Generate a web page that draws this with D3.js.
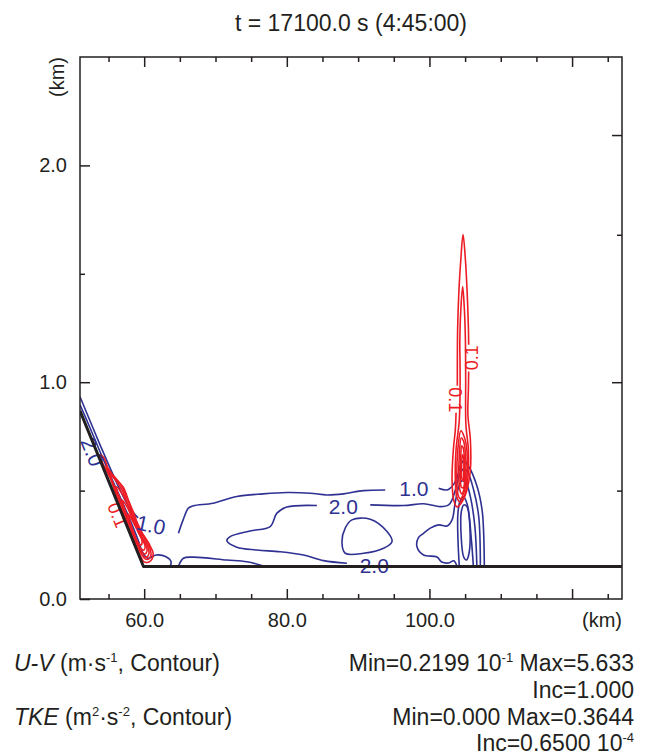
<!DOCTYPE html>
<html>
<head>
<meta charset="utf-8">
<script src="https://cdn.jsdelivr.net/npm/d3@7"></script>
<style>
  body { margin: 0; background: #fff; }
  text { font-family: "Liberation Sans", Arial, sans-serif; fill: #231f20; }
</style>
</head>
<body>
<div id="chart"></div>
<script>
// ---- data (x: km, z: km) ----
var terrain = [[51, 0.868], [59.9, 0.15], [127, 0.15]];

// U-V contours (open lines)
var uvSlope1 = [[51.00, 0.933], [52.40, 0.822], [53.81, 0.711], [55.21, 0.605], [56.61, 0.503], [58.02, 0.416], [59.14, 0.374]];
var uvSlope2 = [[51.00, 0.896], [52.40, 0.790], [53.81, 0.679], [55.21, 0.573], [56.61, 0.471], [58.02, 0.365], [59.14, 0.273],
  [59.84, 0.212], [60.50, 0.188], [61.67, 0.203], [63.07, 0.195], [63.77, 0.172], [63.63, 0.150]];
var uvBump = [[64.80, 0.150], [65.50, 0.188], [66.90, 0.193], [71.59, 0.180], [74.40, 0.172], [76.96, 0.150]];
var uvOne = [[64.80, 0.303], [65.46, 0.365], [66.20, 0.419], [66.90, 0.430], [69.67, 0.442], [72.99, 0.473], [76.68, 0.485],
  [80.01, 0.491], [83.28, 0.488], [85.62, 0.480], [87.95, 0.485], [90.76, 0.500], [93.80, 0.503]];
var uvOneR = [[101.29, 0.511], [102.47, 0.503], [103.17, 0.519], [103.87, 0.559], [104.33, 0.614], [104.79, 0.637],
  [105.50, 0.611], [106.68, 0.519], [107.38, 0.411], [107.60, 0.305], [107.70, 0.150]];
var uvTwoL = [[88.43, 0.165], [85.15, 0.177], [82.34, 0.203], [79.07, 0.218], [75.80, 0.226], [72.99, 0.239], [71.59, 0.269],
  [72.05, 0.288], [74.86, 0.314], [77.67, 0.334], [78.61, 0.396], [80.01, 0.424], [84.22, 0.431]];
var uvTwoR = [[91.70, 0.434], [96.38, 0.431], [99.18, 0.439], [101.53, 0.426], [102.69, 0.434], [103.17, 0.457], [103.63, 0.503],
  [104.19, 0.568], [104.76, 0.600], [105.32, 0.587], [106.20, 0.503], [106.91, 0.380], [107.14, 0.150]];
var uvThree = [[103.87, 0.150], [103.40, 0.176], [102.65, 0.166], [101.67, 0.172], [101.06, 0.194], [99.18, 0.203], [98.26, 0.240],
  [98.44, 0.282], [99.18, 0.303], [100.12, 0.327], [101.29, 0.342], [102.47, 0.337], [103.17, 0.365], [103.56, 0.434],
  [103.98, 0.503], [104.54, 0.545], [105.11, 0.536], [105.74, 0.471], [106.37, 0.334], [106.65, 0.150]];
var uvFour = [[104.19, 0.150], [104.00, 0.273], [103.98, 0.388], [104.26, 0.448], [104.76, 0.471], [105.32, 0.434],
  [105.88, 0.273], [106.16, 0.150]];
// U-V contours (closed loops)
var uvLoopMid = [[89.13, 0.365], [91.70, 0.368], [94.05, 0.311], [94.75, 0.265], [93.57, 0.234], [90.76, 0.211],
  [88.19, 0.211], [87.73, 0.265], [88.19, 0.327]];
var uvLoopPlume = [[104.47, 0.403], [104.44, 0.296], [104.79, 0.195], [105.18, 0.180], [105.50, 0.203], [105.67, 0.334],
  [105.27, 0.425], [104.82, 0.434]];

var uvLabels = [
  { t: "2.0", x: 52.75, z: 0.679, a: 68 },
  { t: "1.0", x: 60.96, z: 0.342, a: 12 },
  { t: "1.0", x: 97.81, z: 0.508, a: 0 },
  { t: "2.0", x: 87.91, z: 0.425, a: 0 },
  { t: "2.0", x: 92.26, z: 0.157, a: 0 }
];

// TKE contours
var tkeSlope1 = [[53.81, 0.665], [54.37, 0.651], [55.07, 0.591], [56.05, 0.550], [57.04, 0.517], [57.88, 0.448], [58.58, 0.393],
  [59.14, 0.342], [59.84, 0.296], [60.54, 0.263], [60.96, 0.236], [61.25, 0.212], [61.11, 0.185], [60.68, 0.171],
  [59.98, 0.171], [59.42, 0.203], [58.58, 0.273], [57.46, 0.365], [56.33, 0.457], [55.21, 0.559], [54.23, 0.624]];
var tkeSlope2 = [[54.65, 0.614], [55.49, 0.577], [56.75, 0.527], [57.60, 0.466], [58.30, 0.406], [59.00, 0.351], [59.70, 0.305],
  [60.40, 0.268], [60.82, 0.231], [60.96, 0.203], [60.68, 0.185], [60.12, 0.185], [59.56, 0.212], [58.72, 0.277],
  [57.60, 0.370], [56.47, 0.462], [55.35, 0.554]];
var tkeSlope3 = [[55.21, 0.573], [56.05, 0.545], [57.04, 0.494], [57.74, 0.434], [58.44, 0.379], [59.14, 0.328], [59.98, 0.282],
  [60.54, 0.240], [60.68, 0.212], [60.40, 0.194], [59.84, 0.199], [59.14, 0.249], [58.16, 0.328], [57.04, 0.420], [56.05, 0.503]];
var tkeSlope4 = [[56.05, 0.517], [56.75, 0.494], [57.60, 0.443], [58.30, 0.388], [59.00, 0.333], [59.70, 0.286], [60.26, 0.249],
  [60.40, 0.222], [60.12, 0.208], [59.56, 0.222], [58.72, 0.286], [57.74, 0.370], [56.75, 0.453]];
var tkeSlope5 = [[56.89, 0.457], [57.60, 0.425], [58.30, 0.374], [59.00, 0.323], [59.70, 0.277], [60.12, 0.245], [59.98, 0.226],
  [59.42, 0.236], [58.58, 0.300], [57.60, 0.383]];
var tkeSlope6 = [[57.74, 0.393], [58.44, 0.356], [59.14, 0.309], [59.70, 0.268], [59.56, 0.249], [59.00, 0.268], [58.30, 0.328]];

var tkePlumeA = [[103.73, 0.859], [103.63, 0.781], [103.35, 0.688], [103.17, 0.550], [103.40, 0.457], [103.87, 0.425],
  [104.47, 0.443], [105.18, 0.494], [105.74, 0.596], [105.74, 0.734], [105.39, 0.850], [105.46, 0.965], [105.50, 1.049]];
var tkePlumeB = [[105.50, 1.173], [105.46, 1.256], [105.27, 1.427], [105.04, 1.566], [104.71, 1.681], [104.40, 1.566],
  [104.14, 1.427], [103.95, 1.243], [103.91, 1.021], [103.91, 0.984]];
var tkePlume2 = [[104.66, 1.441], [104.40, 1.335], [104.26, 1.196], [104.30, 1.025], [104.19, 0.827], [103.73, 0.688],
  [103.63, 0.550], [103.84, 0.471], [104.26, 0.448], [104.89, 0.476], [105.39, 0.559], [105.46, 0.688], [105.11, 0.804],
  [105.08, 1.012], [105.04, 1.196], [104.90, 1.335]];
var tkePlume3 = [[104.40, 0.776], [103.98, 0.688], [103.84, 0.573], [103.98, 0.485], [104.33, 0.462], [104.82, 0.490],
  [105.25, 0.573], [105.25, 0.688], [104.82, 0.753]];
var tkePlume4 = [[104.47, 0.744], [104.19, 0.665], [104.12, 0.573], [104.26, 0.503], [104.54, 0.485], [104.90, 0.513],
  [105.11, 0.587], [105.04, 0.679], [104.76, 0.730]];
var tkePlume5 = [[104.54, 0.707], [104.37, 0.642], [104.33, 0.564], [104.47, 0.517], [104.76, 0.513], [104.94, 0.568],
  [104.90, 0.651], [104.73, 0.697]];
var tkePlume6 = [[104.61, 0.665], [104.51, 0.605], [104.55, 0.554], [104.72, 0.545], [104.82, 0.596], [104.78, 0.651]];

var tkeLabels = [
  { t: "0.1", x: 56.29, z: 0.388, a: 68 },
  { t: "0.1", x: 103.63, z: 0.919, a: 90 },
  { t: "0.1", x: 105.88, z: 1.113, a: -90 }
];

var xMajor = [60, 80, 100, 120];
var xLabelled = [60, 80, 100];
var xMinor = [55, 65, 70, 75, 85, 90, 95, 105, 110, 115, 125];
var yMajor = [0, 1, 2];
var yMinor = [0.5, 1.5];
var rightMajor = [1.0, 2.14];
var rightMinor = [0.5, 1.68];

// ---- chart ----
var W = 648, H = 755;
var blue = "#2e3192", red = "#ed1c24", ink = "#231f20";

var svg = d3.select("#chart").append("svg").attr("width", W).attr("height", H);

var x = d3.scaleLinear().domain([51, 127]).range([80, 622]);
var y = d3.scaleLinear().domain([0, 2.5]).range([599, 57]);

svg.append("clipPath").attr("id", "plotclip")
  .append("rect").attr("x", 80).attr("y", 57).attr("width", 542).attr("height", 542);

var plot = svg.append("g").attr("clip-path", "url(#plotclip)");

var openLine = d3.line().x(function(d) { return x(d[0]); }).y(function(d) { return y(d[1]); })
  .curve(d3.curveCatmullRom.alpha(0.5));
var closedLine = d3.line().x(function(d) { return x(d[0]); }).y(function(d) { return y(d[1]); })
  .curve(d3.curveCatmullRomClosed.alpha(0.5));

function drawLines(data, gen, color) {
  plot.selectAll(null).data(data).enter().append("path")
    .attr("d", gen)
    .attr("fill", "none")
    .attr("stroke", color)
    .attr("stroke-width", 1.6)
    .attr("stroke-linejoin", "round");
}

drawLines([uvSlope1, uvSlope2, uvBump, uvOne, uvOneR, uvTwoL, uvTwoR, uvThree, uvFour], openLine, blue);
drawLines([uvLoopMid, uvLoopPlume], closedLine, blue);
drawLines([tkeSlope1, tkeSlope2, tkeSlope3, tkeSlope4, tkeSlope5, tkeSlope6,
  tkePlume2, tkePlume3, tkePlume4, tkePlume5, tkePlume6], closedLine, red);
drawLines([tkePlumeA, tkePlumeB], openLine, red);

function drawLabels(data, color, size) {
  plot.selectAll(null).data(data).enter().append("text")
    .attr("transform", function(d) { return "translate(" + x(d.x) + "," + y(d.z) + ") rotate(" + d.a + ")"; })
    .attr("text-anchor", "middle")
    .attr("dy", "0.36em")
    .style("fill", color)
    .style("font-size", size + "px")
    .text(function(d) { return d.t; });
}
drawLabels(uvLabels, blue, 21);
drawLabels(tkeLabels, red, 18);

// terrain
plot.append("path")
  .attr("d", d3.line().x(function(d) { return x(d[0]); }).y(function(d) { return y(d[1]); })(terrain))
  .attr("fill", "none")
  .attr("stroke", ink)
  .attr("stroke-width", 3)
  .attr("stroke-linejoin", "round");

// frame
svg.append("rect").attr("x", 80).attr("y", 57).attr("width", 542).attr("height", 542)
  .attr("fill", "none").attr("stroke", ink).attr("stroke-width", 1.5);

function styleAxis(g) {
  g.select(".domain").remove();
  g.selectAll(".tick line").attr("stroke", ink).attr("stroke-width", 1.5);
  g.selectAll(".tick text").style("font-size", "20px").attr("fill", ink);
}

var fmt = d3.format(".1f");

svg.append("g").attr("transform", "translate(0,599)")
  .call(d3.axisBottom(x).tickValues(xMajor).tickSizeInner(-10).tickSizeOuter(0).tickPadding(14)
    .tickFormat(function(d) { return xLabelled.indexOf(d) >= 0 ? fmt(d) : ""; }))
  .call(styleAxis);
svg.append("g").attr("transform", "translate(0,599)")
  .call(d3.axisBottom(x).tickValues(xMinor).tickSizeInner(-5).tickSizeOuter(0).tickFormat(""))
  .call(styleAxis);
svg.append("g").attr("transform", "translate(0,57)")
  .call(d3.axisTop(x).tickValues(xMajor).tickSizeInner(-10).tickSizeOuter(0).tickFormat(""))
  .call(styleAxis);
svg.append("g").attr("transform", "translate(0,57)")
  .call(d3.axisTop(x).tickValues(xMinor).tickSizeInner(-5).tickSizeOuter(0).tickFormat(""))
  .call(styleAxis);

svg.append("g").attr("transform", "translate(80,0)")
  .call(d3.axisLeft(y).tickValues(yMajor).tickSizeInner(-10).tickSizeOuter(0).tickPadding(13).tickFormat(fmt))
  .call(styleAxis);
svg.append("g").attr("transform", "translate(80,0)")
  .call(d3.axisLeft(y).tickValues(yMinor).tickSizeInner(-5).tickSizeOuter(0).tickFormat(""))
  .call(styleAxis);
svg.append("g").attr("transform", "translate(622,0)")
  .call(d3.axisRight(y).tickValues(rightMajor).tickSizeInner(-10).tickSizeOuter(0).tickFormat(""))
  .call(styleAxis);
svg.append("g").attr("transform", "translate(622,0)")
  .call(d3.axisRight(y).tickValues(rightMinor).tickSizeInner(-5).tickSizeOuter(0).tickFormat(""))
  .call(styleAxis);

// axis units
svg.append("text").attr("x", 622).attr("y", 627).attr("text-anchor", "end")
  .style("font-size", "20px").text("(km)");
svg.append("text").attr("transform", "translate(64,57) rotate(-90)").attr("text-anchor", "end")
  .style("font-size", "20px").text("(km)");

// title
svg.append("text").attr("x", 351).attr("y", 31).attr("text-anchor", "middle")
  .style("font-size", "23px").text("t = 17100.0 s (4:45:00)");

// bottom notes
function note(xp, yp, anchor, parts) {
  var t = svg.append("text").attr("x", xp).attr("y", yp).attr("text-anchor", anchor).style("font-size", "23px");
  parts.forEach(function(p) {
    var s = t.append("tspan").text(p.s);
    if (p.i) s.style("font-style", "italic");
    if (p.sup) s.attr("dy", -9).style("font-size", "13px");
    if (p.down) s.attr("dy", 9);
  });
}
note(14, 671, "start", [{ s: "U-V", i: true }, { s: " (m·s" }, { s: "-1", sup: true }, { s: ", Contour)", down: true }]);
note(14, 725, "start", [{ s: "TKE", i: true }, { s: " (m" }, { s: "2", sup: true }, { s: "·s", down: true },
  { s: "-2", sup: true }, { s: ", Contour)", down: true }]);
note(634, 671, "end", [{ s: "Min=0.2199 10" }, { s: "-1", sup: true }, { s: " Max=5.633", down: true }]);
note(634, 698, "end", [{ s: "Inc=1.000" }]);
note(634, 725, "end", [{ s: "Min=0.000 Max=0.3644" }]);
note(634, 751, "end", [{ s: "Inc=0.6500 10" }, { s: "-4", sup: true }]);
</script>
</body>
</html>
